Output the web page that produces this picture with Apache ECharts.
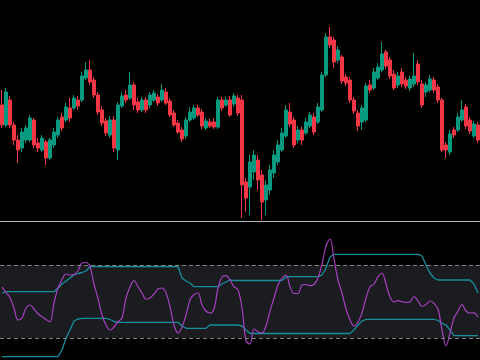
<!DOCTYPE html>
<html><head><meta charset="utf-8">
<script src="https://cdn.jsdelivr.net/npm/echarts@6/dist/echarts.min.js"></script>
<style>html,body{margin:0;padding:0;background:#000;}#c{width:480px;height:360px;}</style>
</head><body><div id="c"></div>
<script>
const opens = [116,96,121,96,81,73,81,81,101,78, 71,79,63,76,86,104,101,113,113,121, 121,143,151,141,126,111,100,86,101,71, 115,126,123,136,119,111,121,116,121,124, 121,129,120,108,98,91,85,101,103,113, 109,93,99,99,94,121,116,121,117,123, 121,39,34,49,61,46,21,31,48,59, 71,85,109,101,81,91,88,95,104,99, 111,146,184,181,161,164,144,141,121,108, 99,101,136,133,143,151,169,161,147,136, 149,141,133,137,157,137,129,131,141,134, 121,76,69,91,91,101,114,101,85,96];
const closes = [96,129,96,81,71,89,93,103,76,73, 83,63,81,89,101,93,114,103,123,115, 145,151,139,126,109,98,88,101,73,116, 125,121,136,116,111,121,111,126,128,118, 131,118,106,96,89,82,101,109,113,106, 95,100,95,94,121,113,121,106,125,108, 36,23,59,66,41,19,36,51,66,76, 88,111,97,76,91,81,99,106,89,114, 146,184,176,159,171,140,138,121,110,95, 113,135,131,149,154,167,155,145,133,145, 137,135,142,145,139,116,136,142,131,121, 71,71,87,86,104,111,95,90,97,81];
const lows = [93,94,93,76,58,69,78,79,73,69, 69,56,61,73,83,90,99,99,111,111, 119,141,136,123,106,95,85,83,69,61, 113,118,121,111,108,109,108,113,119,115, 119,116,104,94,87,79,82,99,101,104, 92,91,93,92,92,110,114,104,114,105, 3,9,6,41,31,1,6,26,43,56, 69,83,94,73,78,76,86,93,86,97, 109,144,173,153,158,137,135,118,107,90, 91,99,128,131,141,149,152,142,131,133, 134,132,130,134,136,113,124,129,128,118, 69,63,66,83,89,99,92,87,83,78];
const highs = [131,133,125,99,86,93,96,106,103,83, 86,81,83,93,104,108,118,123,126,125, 149,159,161,144,129,115,103,105,105,119, 129,131,149,139,123,124,124,129,131,127, 137,133,123,111,101,94,104,114,116,116, 112,103,102,103,124,124,124,125,128,126, 126,43,66,71,66,51,41,56,71,81, 93,116,118,104,95,94,103,109,108,118, 149,188,194,184,175,166,147,144,124,111, 116,138,141,153,158,179,171,164,151,149, 153,144,145,168,161,141,139,146,144,137, 123,79,91,94,108,121,117,104,100,99];
const oscillator = [73,67.5,62.5,52,40,42,52,55,51,46, 43.3,40.5,38.3,57,72,80.5,86,85,85.5,89.5, 97,97.5,93.3,76,61.5,45,35,30,33,38.3, 42,62,73,79.5,73.3,67,61,62,66,71, 72,67,53.3,35,27,33,45,60,65.5,67, 55,49,47,51,72,83,84.3,80,73.3,70, 52,19,16,31,28.3,27,34,49,62,75, 82,85,73.3,66.5,66.5,75,75.5,74.3,75.5,82, 96,114,121,101,80,67,51,40,34,38, 47,62,73.3,76,83.3,87,76,63,58,59.3, 58.3,57.5,58,63.5,59,53.5,55.5,59,56.5,51, 30,14,27,42,49,55.5,49,47,47.2,43];
const upperBand = [67,68.3,68.3,68.3,68.3,68.3,68.3,68.3,68.3,68.3, 68.3,68.3,68.3,68.3,72,76,79,82,85,86.5, 87.5,89,93.3,93.3,93.3,93.3,93.3,93.3,93.3,93.3, 93.3,93.3,93.3,93.3,93.3,93.3,93.3,93.3,93.3,93.3, 93.3,93.3,93.3,93.3,93.3,82,79,77,73.3,73.3, 73.3,73.3,73.3,73.3,73.3,76,78,80,79.5,79.5, 79.5,79.5,79.5,79.5,79.5,79.5,79.5,79.5,79.5,79.5, 79.5,83,83.3,83.3,83.3,83.3,83.3,83.3,83.3,83.3, 85,92,103,105.7,105.7,105.7,105.7,105.7,105.7,105.7, 105.7,105.7,105.7,105.7,105.7,105.7,105.7,105.7,105.7,105.7, 105.7,105.7,105.7,105.7,105.7,104,95,87,82,80, 80,80,80,80,80,80,80,80,76,67];
const lowerBand = [3.3,3.3,3.3,3.3,3.3,3.3,3.3,3.3,3.3,3.3, 3.3,3.3,3.3,3.3,3.3,10,22,30,39,41, 41.7,41.7,41.7,41.7,41.7,41.7,41.7,40.5,38.5,37.7, 37.7,37.7,37.7,37.7,37.7,37.7,37.7,37.7,37.7,37.7, 37.7,37.7,37.7,37.7,37.7,34,31.7,31.7,31.7,31.7, 31.7,31.7,35,35,35,35,35,35,35,35, 34,30,26.5,26.5,26.5,26.5,26.5,26.5,26.5,26.5, 26.5,26.5,26.5,26.5,26.5,26.5,26.5,26.5,26.5,26.5, 26.5,26.5,26.5,26.5,26.5,26.5,26.5,26.5,30,35, 39,40.7,40.7,40.7,40.7,40.7,40.7,40.7,40.7,40.7, 40.7,40.7,40.7,40.7,40.7,40.7,40.7,40.7,40.7,39.5, 36.7,35,30,24.3,24.3,24.3,24.3,24.3,24.3,24.3];
const levelHigh = 95, levelLow = 22;

const cats = opens.map((_, i) => i);
const ohlc = opens.map((o, i) => [o, closes[i], lows[i], highs[i]]);

const chart = echarts.init(document.getElementById('c'), null, {renderer: 'canvas'});
chart.setOption({
  backgroundColor: '#000000',
  animation: false,
  grid: [
    {left: 0, right: 0, top: 0, height: 221},
    {left: 0, right: 0, top: 222, height: 138}
  ],
  xAxis: [
    {type: 'category', gridIndex: 0, data: cats, boundaryGap: true,
     axisLine: {show: true, lineStyle: {color: '#b2b5be', width: 1}},
     axisTick: {show: false}, axisLabel: {show: false}, splitLine: {show: false}},
    {type: 'category', gridIndex: 1, data: cats, boundaryGap: true, show: false}
  ],
  yAxis: [
    {type: 'value', gridIndex: 0, min: 0, max: 221, show: false, splitLine: {show: false}},
    {type: 'value', gridIndex: 1, min: 0, max: 138, show: false, splitLine: {show: false}}
  ],
  series: [
    {type: 'candlestick', xAxisIndex: 0, yAxisIndex: 0, data: ohlc, barWidth: 3,
     itemStyle: {color: '#089981', color0: '#f23645', borderColor: '#089981', borderColor0: '#f23645', borderWidth: 1}},
    {type: 'line', xAxisIndex: 1, yAxisIndex: 1, data: upperBand, symbol: 'none',
     lineStyle: {color: '#168f9c', width: 1.3},
     markArea: {silent: true, itemStyle: {color: '#1b1c20'}, data: [[{yAxis: levelLow}, {yAxis: levelHigh}]]},
     markLine: {silent: true, symbol: 'none', label: {show: false},
       lineStyle: {color: '#808080', type: [4, 3], width: 1},
       data: [{yAxis: levelHigh}, {yAxis: levelLow}]}},
    {type: 'line', xAxisIndex: 1, yAxisIndex: 1, data: lowerBand, symbol: 'none',
     lineStyle: {color: '#168f9c', width: 1.3}},
    {type: 'line', xAxisIndex: 1, yAxisIndex: 1, data: oscillator, symbol: 'none', smooth: 0.35,
     lineStyle: {color: '#a73fc0', width: 1.2}}
  ]
});
</script></body></html>
